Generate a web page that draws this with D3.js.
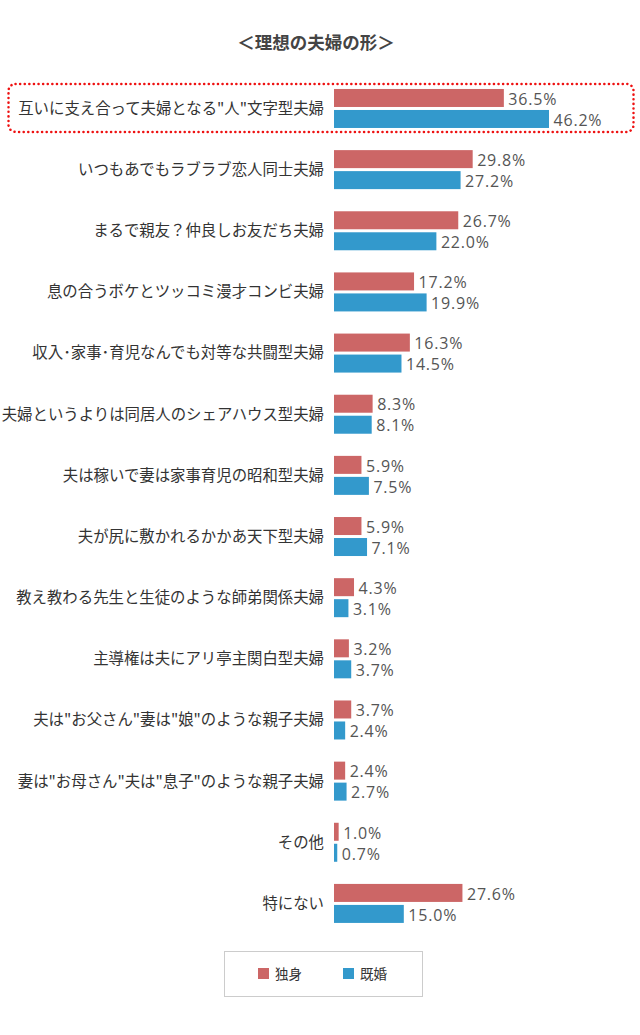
<!DOCTYPE html>
<html>
<head>
<meta charset="utf-8">
<script src="https://cdn.jsdelivr.net/npm/d3@7/dist/d3.min.js"></script>
<style>
  body { margin: 0; background: #fff; }
  svg { display: block; font-family: "Noto Sans CJK JP", "Noto Sans", sans-serif; }
</style>
</head>
<body>
<svg id="chart"></svg>
<script>
const categories = [
    "互いに支え合って夫婦となる\"人\"文字型夫婦",
    "いつもあでもラブラブ恋人同士夫婦",
    "まるで親友？仲良しお友だち夫婦",
    "息の合うボケとツッコミ漫才コンビ夫婦",
    "収入･家事･育児なんでも対等な共闘型夫婦",
    "夫婦というよりは同居人のシェアハウス型夫婦",
    "夫は稼いで妻は家事育児の昭和型夫婦",
    "夫が尻に敷かれるかかあ天下型夫婦",
    "教え教わる先生と生徒のような師弟関係夫婦",
    "主導権は夫にアリ亭主関白型夫婦",
    "夫は\"お父さん\"妻は\"娘\"のような親子夫婦",
    "妻は\"お母さん\"夫は\"息子\"のような親子夫婦",
    "その他",
    "特にない"
];
const seriesNames = ["独身", "既婚"];
const single  = [36.5, 29.8, 26.7, 17.2, 16.3, 8.3, 5.9, 5.9, 4.3, 3.2, 3.7, 2.4, 1.0, 27.6];
const married = [46.2, 27.2, 22.0, 19.9, 14.5, 8.1, 7.5, 7.1, 3.1, 3.7, 2.4, 2.7, 0.7, 15.0];
const colors = ["#cc6666", "#3399cc"];

const width = 640, height = 1035;
const svg = d3.select("#chart").attr("width", width).attr("height", height);

// title
svg.append("text")
    .attr("x", 316)
    .attr("y", 49)
    .attr("text-anchor", "middle")
    .attr("font-size", 17.5)
    .attr("font-weight", "bold")
    .attr("fill", "#444")
    .text("＜理想の夫婦の形＞");

const x = d3.scaleLinear().domain([0, 46.2]).range([334, 549]);
const pitch = 61.15;
const y = d3.scaleBand()
    .domain(categories)
    .range([77.9, 77.9 + pitch * categories.length]);
const inner = d3.scaleBand()
    .domain(seriesNames)
    .range([0, 39])
    .paddingInner(3 / 21);
const groupOffset = (y.bandwidth() - 39) / 2;

// highlight box round first row
svg.append("rect")
    .attr("x", 8.5)
    .attr("y", y(categories[0]) + 6)
    .attr("width", 625)
    .attr("height", 48)
    .attr("rx", 7)
    .attr("fill", "none")
    .attr("stroke", "#ee1111")
    .attr("stroke-width", 2.5)
    .attr("stroke-dasharray", "0.1 4.5")
    .attr("stroke-linecap", "round");

const rows = categories.map((c, i) => ({ cat: c, vals: [single[i], married[i]] }));

const g = svg.append("g").selectAll("g")
    .data(rows)
    .join("g")
    .attr("transform", d => `translate(0,${y(d.cat) + groupOffset})`);

g.append("text")
    .attr("x", 324)
    .attr("y", 19.5)
    .attr("dy", "0.35em")
    .attr("text-anchor", "end")
    .attr("font-size", 15.4)
    .attr("fill", "#333")
    .text(d => d.cat);

const bars = g.selectAll("g.bar")
    .data(d => d.vals.map((v, j) => ({ v, s: seriesNames[j], j })))
    .join("g")
    .attr("class", "bar");

bars.append("rect")
    .attr("x", x(0))
    .attr("y", d => inner(d.s))
    .attr("width", d => x(d.v) - x(0))
    .attr("height", inner.bandwidth())
    .attr("fill", d => colors[d.j]);

bars.append("text")
    .attr("x", d => x(d.v) + 4.5)
    .attr("y", d => inner(d.s) + inner.bandwidth() / 2 + 1)
    .attr("dy", "0.36em")
    .attr("font-family", "'Open Sans', sans-serif")
    .attr("font-size", 16)
    .attr("letter-spacing", 0.8)
    .attr("fill", "#555")
    .text(d => d.v.toFixed(1) + "%");

// legend
const legend = svg.append("g");
legend.append("rect")
    .attr("x", 224.5).attr("y", 951.5)
    .attr("width", 198).attr("height", 45)
    .attr("fill", "#fff")
    .attr("stroke", "#ccc");
const legendX = [258, 343];
seriesNames.forEach((s, i) => {
    legend.append("rect")
        .attr("x", legendX[i]).attr("y", 968)
        .attr("width", 11).attr("height", 11)
        .attr("fill", colors[i]);
    legend.append("text")
        .attr("x", legendX[i] + 17).attr("y", 974)
        .attr("dy", "0.35em")
        .attr("font-size", 13.5)
        .attr("fill", "#333")
        .text(s);
});
</script>
</body>
</html>
